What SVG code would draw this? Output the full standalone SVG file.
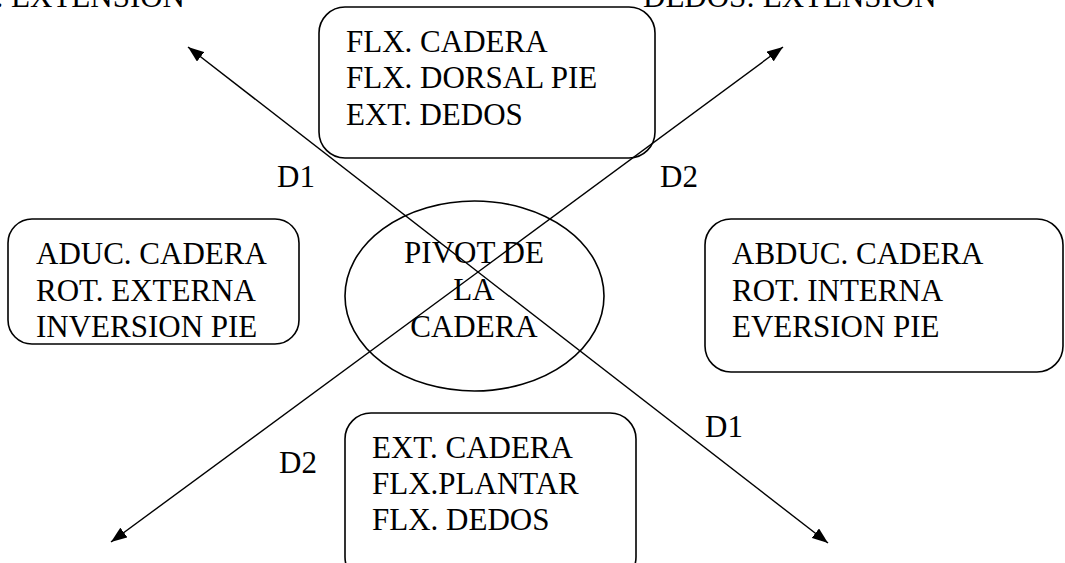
<svg xmlns="http://www.w3.org/2000/svg" width="1065" height="563" viewBox="0 0 1065 563">
<style>
text{font-family:"Liberation Serif","Times New Roman",serif;font-size:31px;fill:#000}
.box{fill:#fff;stroke:#000;stroke-width:1.6}
.ln{stroke:#000;stroke-width:1.4;fill:none}
.c{text-anchor:middle}
</style>
<defs>
<marker id="ah" viewBox="0 0 16 12" refX="16" refY="6" markerWidth="16" markerHeight="12" markerUnits="userSpaceOnUse" orient="auto">
<path d="M0,0 L16,6 L0,12 z" fill="#000"/>
</marker>
</defs>
<rect width="1065" height="563" fill="#fff"/>
<text x="185" y="7" style="text-anchor:end">. EXTENSION</text>
<text x="643" y="7">DEDOS: EXTENSION</text>
<g id="node-top"><rect class="box" x="319" y="7" width="336" height="151" rx="26"/>
<text x="346" y="52">FLX. CADERA</text><text x="346" y="88">FLX. DORSAL PIE</text><text x="346" y="125">EXT. DEDOS</text></g>
<g id="node-left"><rect class="box" x="8" y="219" width="291" height="125" rx="24"/>
<text x="36" y="264">ADUC. CADERA</text><text x="36" y="301">ROT. EXTERNA</text><text x="36" y="337">INVERSION PIE</text></g>
<g id="node-right"><rect class="box" x="705" y="219" width="358" height="153" rx="26"/>
<text x="732" y="264">ABDUC. CADERA</text><text x="732" y="301">ROT. INTERNA</text><text x="732" y="337">EVERSION PIE</text></g>
<g id="node-bottom"><rect class="box" x="345" y="413" width="291" height="170" rx="26"/>
<text x="372" y="458">EXT. CADERA</text><text x="372" y="494">FLX.PLANTAR</text><text x="372" y="530">FLX. DEDOS</text></g>
<g id="node-pivot"><ellipse class="box" cx="474.5" cy="296" rx="129.5" ry="95"/></g>
<g id="connectors">
<line class="ln" x1="478" y1="272" x2="188" y2="47" marker-end="url(#ah)"/>
<line class="ln" x1="478" y1="272" x2="828" y2="543" marker-end="url(#ah)"/>
<line class="ln" x1="478" y1="272" x2="783" y2="47" marker-end="url(#ah)"/>
<line class="ln" x1="478" y1="272" x2="111" y2="542" marker-end="url(#ah)"/>
</g>
<g id="pivot-label">
<text class="c" x="474" y="263">PIVOT DE</text><text class="c" x="474" y="300">LA</text><text class="c" x="474" y="337">CADERA</text>
</g>
<g id="labels">
<text x="277" y="187">D1</text>
<text x="660" y="187">D2</text>
<text x="705" y="437">D1</text>
<text x="279" y="473">D2</text>
</g>
</svg>
